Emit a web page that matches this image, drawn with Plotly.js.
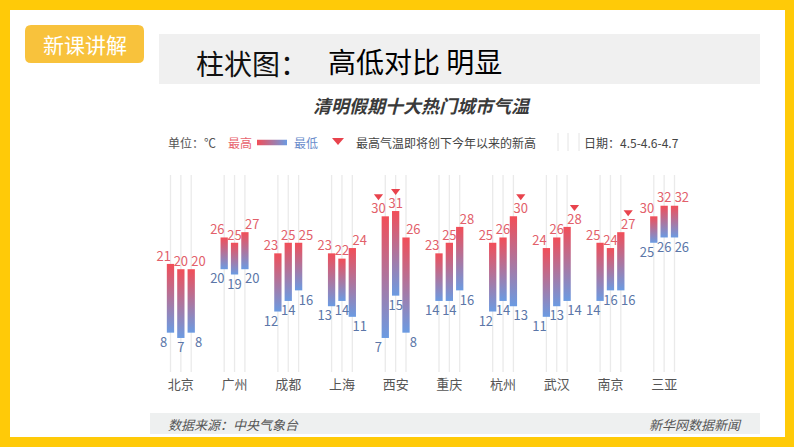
<!DOCTYPE html>
<html>
<head>
<meta charset="utf-8">
<script src="https://cdn.plot.ly/plotly-3.0.1.min.js"></script>
<style>html,body{margin:0;padding:0;background:#fff;}#chart{width:794px;height:447px;}</style>
</head>
<body>
<div id="chart"></div>
<script>
// ---- data ----
const cities = ['北京','广州','成都','上海','西安','重庆','杭州','武汉','南京','三亚'];
const days = ['4.5','4.6','4.7'];
const high45 = [21,26,23,23,30,23,25,24,25,30];
const high46 = [20,25,25,22,31,25,26,26,24,32];
const high47 = [20,27,25,24,26,28,30,28,27,32];
const low45  = [8,20,12,13,7,14,12,11,14,25];
const low46  = [7,19,14,14,15,14,14,13,16,26];
const low47  = [8,20,16,11,8,16,13,14,16,26];
// 1 = highest temperature about to set a new high for the year
const rec45 = [0,0,0,0,1,0,0,0,0,0];
const rec46 = [0,0,0,0,1,0,0,0,0,0];
const rec47 = [0,0,0,0,0,0,1,1,1,0];

const highs = [high45, high46, high47];
const lows = [low45, low46, low47];
const recs = [rec45, rec46, rec47];

// ---- layout geometry ----
const W = 794, H = 447, ML = 154, MR = 103, MT = 174, MB = 72;
const PW = W - ML - MR, PH = H - MT - MB;
const YMAX = 38;
const px = p => (p - ML) / PW;          // pixel x -> paper
const py = p => (H - MB - p) / PH;      // pixel y -> paper
const pxToData = p => p * YMAX / PH;    // pixel distance -> y data units
const FONT = '"Noto Sans CJK SC", "Noto Sans", sans-serif';

const barOff = [-0.193, 0, 0.193];
const lblOff = [-0.32, 0, 0.33];
const halfW = 0.068;
const RED = '#F24E58', BLUE = '#6B9BE2';

const traces = [];
const shapes = [];
const annotations = [];

// bars as gradient-filled polygons
for (let d = 0; d < 3; d++) {
  for (let i = 0; i < cities.length; i++) {
    const c = i + barOff[d];
    const lo = lows[d][i], hi = highs[d][i];
    traces.push({
      type: 'scatter', mode: 'lines',
      x: [c - halfW, c + halfW, c + halfW, c - halfW, c - halfW],
      y: [lo, lo, hi, hi, lo],
      fill: 'toself',
      fillgradient: { type: 'vertical', colorscale: [[0, BLUE], [1, RED]] },
      line: { width: 0, color: 'rgba(0,0,0,0)' },
      hoverinfo: 'skip', showlegend: false
    });
    // background guide line
    shapes.push({ type: 'line', layer: 'below', xref: 'x', yref: 'paper',
      x0: c, x1: c, y0: py(372), y1: py(175), line: { color: '#EAEAEA', width: 1.3 } });
  }
}
// labels
for (let d = 0; d < 3; d++) {
  const xs = cities.map((_, i) => i + lblOff[d]);
  traces.push({ type: 'scatter', mode: 'text', x: xs, y: highs[d],
    text: highs[d].map(String), textposition: 'top center', cliponaxis: false,
    textfont: { family: FONT, size: 13, color: '#E2606A' }, hoverinfo: 'skip', showlegend: false });
  traces.push({ type: 'scatter', mode: 'text', x: xs, y: lows[d].map(v => v - pxToData(4.5)),
    text: lows[d].map(String), textposition: 'bottom center', cliponaxis: false,
    textfont: { family: FONT, size: 13, color: '#5B76A8' }, hoverinfo: 'skip', showlegend: false });
  // record markers
  const tx = [], ty = [];
  cities.forEach((_, i) => { if (recs[d][i]) { tx.push(i + lblOff[d]); ty.push(highs[d][i] + pxToData(20)); } });
  traces.push({ type: 'scatter', mode: 'markers', x: tx, y: ty, cliponaxis: false,
    marker: { symbol: 'triangle-down', size: 8, color: '#E8434D' }, hoverinfo: 'skip', showlegend: false });
}

// ---- decoration ----
const GOLD = '#FFCA08';
function rectPx(x0, y0, x1, y1, color) {
  shapes.push({ type: 'rect', layer: 'below', xref: 'paper', yref: 'paper',
    x0: px(x0), x1: px(x1), y0: py(y1), y1: py(y0), fillcolor: color, line: { width: 0 } });
}
function roundRectPx(x0, y0, x1, y1, r, color) {
  const X = p => px(p), Y = p => py(p);
  const path = `M ${X(x0 + r)} ${Y(y0)} L ${X(x1 - r)} ${Y(y0)} Q ${X(x1)} ${Y(y0)} ${X(x1)} ${Y(y0 + r)} ` +
    `L ${X(x1)} ${Y(y1 - r)} Q ${X(x1)} ${Y(y1)} ${X(x1 - r)} ${Y(y1)} L ${X(x0 + r)} ${Y(y1)} ` +
    `Q ${X(x0)} ${Y(y1)} ${X(x0)} ${Y(y1 - r)} L ${X(x0)} ${Y(y0 + r)} Q ${X(x0)} ${Y(y0)} ${X(x0 + r)} ${Y(y0)} Z`;
  shapes.push({ type: 'path', layer: 'below', xref: 'paper', yref: 'paper', path: path, fillcolor: color, line: { width: 0 } });
}
function textPx(x, y, text, size, color, anchor, extra) {
  annotations.push(Object.assign({ xref: 'paper', yref: 'paper', x: px(x), y: py(y), text: text,
    showarrow: false, xanchor: anchor || 'left', yanchor: 'middle',
    font: { family: FONT, size: size, color: color } }, extra || {}));
}

// yellow frame
rectPx(0, 0, W, 10, GOLD);
rectPx(0, 0, 10, H, GOLD);
rectPx(785, 0, W, H, GOLD);
rectPx(0, 437, W, H, GOLD);
// badge
roundRectPx(25, 25, 144, 63, 6, '#F8C23C');
textPx(84.5, 44, '新课讲解', 21, '#FFFFFF', 'center');
// header bar
rectPx(159, 34, 760, 84, '#F0F0F0');
textPx(194, 63, '柱状图：', 28, '#111111', 'left');
textPx(326, 61, '高低对比 明显', 28, '#000000', 'left');
// chart title
textPx(422, 105, '<b><i>清明假期十大热门城市气温</i></b>', 18, '#3A3A3A', 'center');
// legend row
textPx(166, 142, '单位：℃', 12, '#555555', 'left');
textPx(226, 142, '最高', 12, '#E8646E', 'left');
textPx(292, 142, '最低', 12, '#6A8CCB', 'left');
textPx(354, 142, '最高气温即将创下今年以来的新高', 12, '#444444', 'left');
textPx(582, 142, '日期：4.5-4.6-4.7', 12, '#444444', 'left');
shapes.push({ type: 'path', layer: 'above', xref: 'paper', yref: 'paper',
  path: `M ${px(332)} ${py(138)} L ${px(344)} ${py(138)} L ${px(338)} ${py(145)} Z`,
  fillcolor: '#E8434D', line: { width: 0 } });
[558, 568, 579].forEach(x => shapes.push({ type: 'line', layer: 'below', xref: 'paper', yref: 'paper',
  x0: px(x), x1: px(x), y0: py(151), y1: py(133), line: { color: '#E4E4E4', width: 1 } }));
// footer
rectPx(150, 413, 760, 434, '#EEF0F0');
textPx(166, 424, '<i>数据来源：中央气象台</i>', 13, '#555555', 'left');
textPx(744, 424, '<i>新华网数据新闻</i>', 13, '#555555', 'right');

const gradSvg = `<svg xmlns="http://www.w3.org/2000/svg" width="30" height="6"><defs><linearGradient id="g" x1="0" x2="1" y1="0" y2="0"><stop offset="0" stop-color="${RED}"/><stop offset="1" stop-color="${BLUE}"/></linearGradient></defs><rect width="30" height="6" fill="url(#g)"/></svg>`;
const images = [{
  source: 'data:image/svg+xml;charset=utf-8,' + encodeURIComponent(gradSvg),
  xref: 'paper', yref: 'paper', x: px(257), y: py(139.5), sizex: 30 / PW, sizey: 6 / PH,
  xanchor: 'left', yanchor: 'top', sizing: 'stretch', layer: 'above'
}];

const layout = {
  width: W, height: H,
  margin: { l: ML, r: MR, t: MT, b: MB, pad: 0 },
  paper_bgcolor: '#FFFFFF', plot_bgcolor: 'rgba(0,0,0,0)',
  showlegend: false,
  xaxis: { range: [-0.5, 9.5], tickvals: cities.map((_, i) => i), ticktext: cities,
    showgrid: false, zeroline: false, showline: false, ticks: '', fixedrange: true,
    tickfont: { family: FONT, size: 13, color: '#555555' } },
  yaxis: { range: [0, YMAX], visible: false, showgrid: false, zeroline: false, fixedrange: true },
  shapes: shapes, annotations: annotations, images: images,
  font: { family: FONT }
};

Plotly.newPlot('chart', traces, layout, { staticPlot: true, displayModeBar: false });
</script>
</body>
</html>
